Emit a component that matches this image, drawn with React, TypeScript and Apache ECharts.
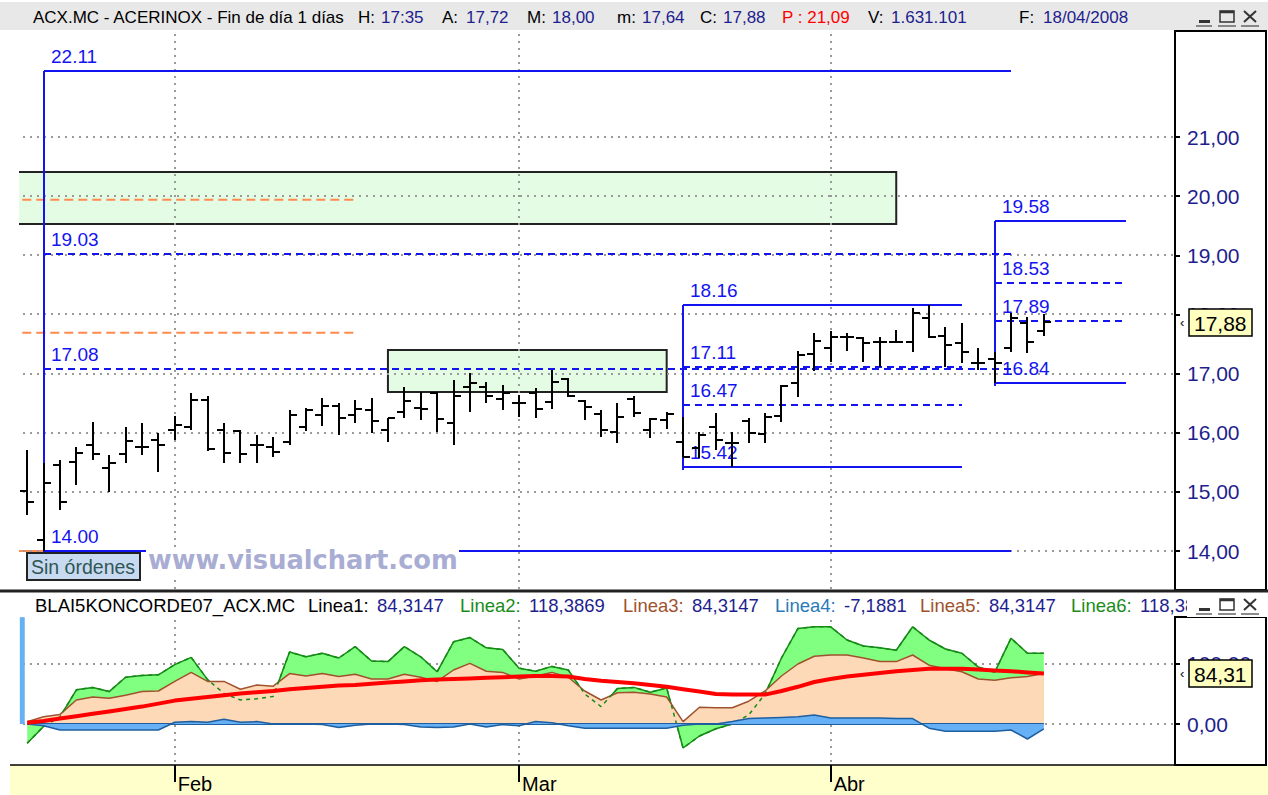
import React, { useEffect, useRef } from 'react';
import * as echarts from 'echarts';

// ---------- DATA ----------
const dates = [
  '2008-01-21','2008-01-22','2008-01-23','2008-01-24','2008-01-25','2008-01-28','2008-01-29','2008-01-30','2008-01-31',
  '2008-02-01','2008-02-04','2008-02-05','2008-02-06','2008-02-07','2008-02-08','2008-02-11','2008-02-12','2008-02-13','2008-02-14','2008-02-15','2008-02-18','2008-02-19','2008-02-20','2008-02-21','2008-02-22','2008-02-25','2008-02-26','2008-02-27','2008-02-28','2008-02-29',
  '2008-03-03','2008-03-04','2008-03-05','2008-03-06','2008-03-07','2008-03-10','2008-03-11','2008-03-12','2008-03-13','2008-03-14','2008-03-17','2008-03-18','2008-03-19','2008-03-20','2008-03-25','2008-03-26','2008-03-27','2008-03-28','2008-03-31',
  '2008-04-01','2008-04-02','2008-04-03','2008-04-04','2008-04-07','2008-04-08','2008-04-09','2008-04-10','2008-04-11','2008-04-14','2008-04-15','2008-04-16','2008-04-17','2008-04-18',
];
const opens = [15.01,14.19,15.45,15.50,15.79,15.40,15.64,15.76,15.88, 16.05,16.10,16.55,16.05,16.03,15.79,15.76,15.85,16.10,16.30,16.45,16.30,16.38,16.05,16.35,16.42,16.67,16.16,16.77,16.77,16.57, 16.50,16.67,16.52,16.91,16.54,16.32,16.01,16.57,16.05,16.22,15.84,15.74,16.10,15.83,16.20,15.98,16.28,16.84,17.33, 17.43,17.62,17.60,17.53,17.53,17.53,17.94,17.64,17.52,17.18,17.25,17.43,17.86,17.72];
const highs = [15.71,15.49,15.54,15.76,16.18,15.62,16.10,16.16,16.00, 16.28,16.67,16.62,16.16,16.05,15.96,15.93,16.38,16.42,16.59,16.50,16.55,16.58,16.25,16.77,16.69,16.69,16.89,17.01,16.86,16.81, 16.64,16.76,17.06,16.93,16.55,16.38,16.50,16.62,16.25,16.35,16.27,16.01,16.33,16.01,16.25,16.33,16.81,17.38,17.69, 17.72,17.69,17.62,17.62,17.74,18.11,18.16,17.79,17.86,17.43,17.36,18.02,17.96,18.00];
const lows = [14.61,14.00,14.69,15.12,15.54,15.00,15.49,15.62,15.34, 15.88,16.05,15.69,15.49,15.49,15.49,15.59,15.79,16.03,16.11,15.96,16.16,16.00,15.84,16.25,16.22,16.02,15.79,16.35,16.50,16.38, 16.27,16.25,16.40,16.60,16.22,15.93,15.83,16.27,15.91,16.06,15.59,15.57,15.71,15.42,15.83,15.83,16.18,16.60,17.04, 17.20,17.38,17.20,17.11,17.52,17.36,17.60,17.11,17.18,17.06,16.84,17.36,17.35,17.64];
const closes = [14.83,15.15,14.83,15.66,15.64,15.49,15.86,15.76,15.79, 16.13,16.55,15.72,15.66,15.64,15.79,15.67,16.30,16.38,16.45,16.25,16.40,16.20,16.25,16.54,16.40,16.23,16.62,16.84,16.62,16.67, 16.50,16.40,16.86,16.62,16.44,16.05,16.27,16.33,16.23,16.32,15.59,15.96,15.88,15.83,16.00,16.27,16.79,17.31,17.55, 17.62,17.62,17.52,17.53,17.53,18.02,17.62,17.48,17.36,17.18,17.18,17.94,17.53,17.88];

const koncordeGreen = [-32,-4,12,57,61,54,78,81,82, 99,111,74,51,40,42,46,120,112,118,110,129,105,104,129,112,87,137,144,127,124, 93,88,96,90,50,29,59,61,53,60,-40,-20,-8,0,15,50,110,159,162, 162,140,130,127,123,162,140,125,118,95,86,143,118,118];
const koncordeBrown = [4,12,16,40,45,43,48,54,55, 71,86,71,71,58,65,63,84,80,84,79,83,75,75,83,78,71,90,101,88,86, 75,80,86,78,55,40,52,53,50,45,4,28,27,27,38,55,80,100,113, 115,115,110,104,104,115,98,92,87,75,73,77,79,84];
const koncordeBlue = [0,-3,-10,-10,-10,-10,-10,-10,-10, 3,4,3,8,3,4,0,0,0,-1,-6,-2,0,0,-1,-5,-6,-5,0,-5,-1, -3,4,2,-3,-7,-7,-7,-7,-7,-7,-2,0,0,4,9,10,11,12,15, 10,10,10,10,9,9,-7,-12,-12,-12,-12,-10,-25,-8];
const koncordeRed = [2,5,9,13,17,21,25,29,34, 39,42,45,48,51,53,55,58,60,62,64,65,67,69,71,73,74,75,76,77,78, 79,80,80,79,75,72,70,68,65,62,58,54,50,49,49,49,55,62,70, 75,79,82,85,88,90,92,92,92,91,89,88,86,84];

const priceTicks = [14, 15, 16, 17, 18, 19, 20, 21];
const oscTicks = [0, 100];
const monthNames: Record<string, string> = { '01': 'Ene', '02': 'Feb', '03': 'Mar', '04': 'Abr' };

// drawings (in data coordinates: bar index, price)
const fibStart = [1, 40, 59];
const fibEnd = [60, 57, 67];
const fibHigh = [22.11, 18.16, 19.58];
const fibLow = [14.0, 15.42, 16.84];
const fibUpper = [19.03, 17.11, 18.53];
const fibLower = [17.08, 16.47, 17.89];

const zoneStart = [-2, 22];
const zoneEnd = [53, 39];
const zoneTop = [20.41, 17.4];
const zoneBottom = [19.53, 16.69];

const orangeLevels = [19.94, 17.69];
const orangeStart = [-0.3, -0.3];
const orangeEnd = [20, 20];
const stopLevel = 14.0;
const stopRange = [-0.5, 1];

const blueSpike = [-0.45, -0.15];

const quoteTime = '17:35';
const quoteP = 21.09;
const quoteVolume = '1.631.101';
const lineaValues = [84.3147, 118.3869, 84.3147, -7.1881, 84.3147, 118.3869];

// ---------- HELPERS ----------
const FONT = '"Liberation Sans", Arial, sans-serif';
const NAVY = '#1e1e8e';
const BLUE = '#1414f0';
const fmt2 = (v: number) => v.toFixed(2).replace('.', ',');
const fmt4 = (v: number) => v.toFixed(4).replace('.', ',');
const last = dates.length - 1;
const lastClose = closes[last];
const lastOsc = lineaValues[0];
const monthStarts = dates
  .map((d, i) => (i > 0 && d.slice(5, 7) !== dates[i - 1].slice(5, 7) ? i : -1))
  .filter((i) => i >= 0);
const pairs = (arr: number[]) => arr.map((v, i) => [i, v]);
const dmy = (d: string) => `${d.slice(8, 10)}/${d.slice(5, 7)}/${d.slice(0, 4)}`;

const txtStyle = (text: string, fill: string, size: number, extra: any = {}) => ({
  text, fill, font: `${size}px ${FONT}`, fontSize: size, fontFamily: FONT,
  align: 'left', textAlign: 'left', verticalAlign: 'middle', textVerticalAlign: 'middle', ...extra,
});
const T = (x: number, y: number, text: string, fill: string, size = 17, extra: any = {}) => ({
  type: 'text', x, y, z: 7, silent: true, style: txtStyle(text, fill, size, extra),
});

const buttons = (y: number, bg: string) => [
  { type: 'rect', z: 7, shape: { x: 1187, y: y - 11, width: 81, height: 23 }, style: { fill: bg } },
  { type: 'rect', z: 8, shape: { x: 1199, y: y + 3, width: 11, height: 3 }, style: { fill: '#333' } },
  { type: 'rect', z: 8, shape: { x: 1220, y: y - 6, width: 14, height: 11 }, style: { fill: 'none', stroke: '#333', lineWidth: 1.5 } },
  { type: 'line', z: 8, shape: { x1: 1220, y1: y - 5, x2: 1234, y2: y - 5 }, style: { stroke: '#333', lineWidth: 2.5 } },
  { type: 'line', z: 8, shape: { x1: 1244, y1: y - 6, x2: 1256, y2: y + 5 }, style: { stroke: '#333', lineWidth: 2 } },
  { type: 'line', z: 8, shape: { x1: 1256, y1: y - 6, x2: 1244, y2: y + 5 }, style: { stroke: '#333', lineWidth: 2 } },
  { type: 'line', z: 8, shape: { x1: 1196, y1: y + 9, x2: 1212, y2: y + 9 }, style: { stroke: '#666', lineWidth: 1.5 } },
  { type: 'line', z: 8, shape: { x1: 1218, y1: y + 9, x2: 1236, y2: y + 9 }, style: { stroke: '#666', lineWidth: 1.5 } },
  { type: 'line', z: 8, shape: { x1: 1241, y1: y + 9, x2: 1259, y2: y + 9 }, style: { stroke: '#666', lineWidth: 1.5 } },
];

// last-value marker drawn in the axis panel, placed through the series' own scale
const lastValueSeries = (axisIndex: number, value: number) => ({
  type: 'custom', xAxisIndex: axisIndex, yAxisIndex: axisIndex, z: 10, silent: true, clip: false,
  data: [[last, value]], encode: { x: 0, y: 1 },
  renderItem: (params: any, api: any) => {
    const cs = params.coordSys;
    const x0 = cs.x + cs.width;
    const y = Math.round(api.coord([api.value(0), api.value(1)])[1]);
    return {
      type: 'group',
      children: [
        { type: 'text', x: x0 + 5, y: y, style: txtStyle('‹', '#000', 13) },
        { type: 'rect', shape: { x: x0 + 14, y: y - 13, width: 63, height: 27 }, style: { fill: '#ffffc0', stroke: '#000', lineWidth: 1.5 } },
        { type: 'text', x: x0 + 19, y: y + 1, style: txtStyle(fmt2(api.value(1)), '#000', 21) },
      ],
    };
  },
});

// dotted grid lines (drawn as rows of small dots) through the axes' scales
const DOT_STEP = 7;
const dotsH = (x1: number, x2: number, y: number) => {
  const out: any[] = [];
  for (let x = x1; x <= x2; x += DOT_STEP) out.push({ type: 'rect', shape: { x, y: y - 1, width: 2, height: 2 }, style: { fill: '#9a9a9a' } });
  return out;
};
const dotsV = (x: number, y1: number, y2: number) => {
  const out: any[] = [];
  for (let y = y1; y <= y2; y += DOT_STEP) out.push({ type: 'rect', shape: { x: x - 1, y, width: 2, height: 2 }, style: { fill: '#9a9a9a' } });
  return out;
};
const hGridSeries = (axisIndex: number, values: number[], z: number) => ({
  type: 'custom', xAxisIndex: axisIndex, yAxisIndex: axisIndex, z, silent: true,
  data: values.map((v) => [35, v]), encode: { x: 0, y: 1 },
  renderItem: (params: any, api: any) => {
    const cs = params.coordSys;
    const y = Math.round(api.coord([api.value(0), api.value(1)])[1]);
    return { type: 'group', children: dotsH(cs.x + 4, cs.x + cs.width - 4, y) };
  },
});
const vGridSeries = (axisIndex: number, idx: number[], yRef: number, z: number) => ({
  type: 'custom', xAxisIndex: axisIndex, yAxisIndex: axisIndex, z, silent: true,
  data: idx.map((i) => [i, yRef]), encode: { x: 0, y: 1 },
  renderItem: (params: any, api: any) => {
    const cs = params.coordSys;
    const x = Math.round(api.coord([api.value(0), api.value(1)])[0]);
    return { type: 'group', children: dotsV(x, cs.y + 3, cs.y + cs.height - 2) };
  },
});

function buildOption(): any {
  const HY = 17;
  const LY = 605;
  const header = [
    { type: 'rect', z: 6, shape: { x: 0, y: 2, width: 1268, height: 28 }, style: { fill: '#e8e8e8' } },
    T(33, HY, 'ACX.MC - ACERINOX - Fin de día 1 días', '#000'),
    T(358, HY, 'H:', '#000'), T(381, HY, quoteTime, NAVY),
    T(442, HY, 'A:', '#000'), T(466, HY, fmt2(opens[last]), NAVY),
    T(527, HY, 'M:', '#000'), T(552, HY, fmt2(highs[last]), NAVY),
    T(617, HY, 'm:', '#000'), T(642, HY, fmt2(lows[last]), NAVY),
    T(700, HY, 'C:', '#000'), T(723, HY, fmt2(closes[last]), NAVY),
    T(782, HY, 'P : ' + fmt2(quoteP), '#ff0000'),
    T(868, HY, 'V:', '#000'), T(891, HY, quoteVolume, NAVY),
    T(1019, HY, 'F:', '#000'), T(1043, HY, dmy(dates[last]), NAVY),
    ...buttons(HY, '#e8e8e8'),
  ];
  const lineaColors = ['#000000', '#1a8c1a', '#a0522d', '#2a7ab8', '#a0522d', '#1a8c1a'];
  const lineaX = [308, 460, 623, 775, 920, 1071];
  const lower = [
    T(35, LY, 'BLAI5KONCORDE07_ACX.MC', '#000', 18.5),
    ...lineaValues.flatMap((v, k) => [
      T(lineaX[k], LY, `Linea${k + 1}:`, lineaColors[k], 18.5),
      T(lineaX[k] + 69, LY, fmt4(v), NAVY, 18.5),
    ]),
    ...buttons(LY, '#ffffff'),
  ];
  const chrome = [
    { type: 'rect', z: -1, shape: { x: 10, y: 765, width: 1258, height: 30 }, style: { fill: '#ffffcc' } },
    { type: 'line', z: 6, shape: { x1: 10, y1: 765, x2: 1176, y2: 765 }, style: { stroke: '#000', lineWidth: 1.5 } },
    { type: 'rect', z: 6, shape: { x: 1175, y: 31, width: 91, height: 559 }, style: { fill: 'none', stroke: '#000', lineWidth: 2 } },
    { type: 'rect', z: 6, shape: { x: 1175, y: 617, width: 91, height: 148 }, style: { fill: 'none', stroke: '#000', lineWidth: 2 } },
    { type: 'rect', z: 6, shape: { x: 0, y: 589.5, width: 1268, height: 3 }, style: { fill: '#222' } },
    // watermark
    { type: 'rect', z: 3.5, shape: { x: 146, y: 548, width: 313, height: 27 }, style: { fill: '#fff' } },
    { type: 'text', z: 3.6, x: 148, y: 573, silent: true,
      style: { text: 'www.visualchart.com', fill: '#a9add3', font: 'bold 25.7px "DejaVu Sans", Verdana, sans-serif', fontSize: 25.7, fontWeight: 'bold', fontFamily: '"DejaVu Sans", Verdana, sans-serif', align: 'left', textAlign: 'left', verticalAlign: 'bottom', textVerticalAlign: 'bottom' } },
    // Sin órdenes
    { type: 'rect', z: 5, shape: { x: 27, y: 553, width: 113, height: 27 }, style: { fill: '#c8daf0', stroke: '#222', lineWidth: 2 } },
    T(31, 567, 'Sin órdenes', '#2f5656', 19.5),
  ];

  const ohlcData = dates.map((d, i) => [i, opens[i], highs[i], lows[i], closes[i]]);
  const fibData = fibStart.map((s, k) => [s, fibEnd[k], fibHigh[k], fibLow[k], fibUpper[k], fibLower[k]]);
  const zoneData = zoneStart.map((s, k) => [s, zoneEnd[k], zoneTop[k], zoneBottom[k]]);
  const orangeData = orangeLevels.map((v, k) => [orangeStart[k], orangeEnd[k], v]);

  const yLabel = (ticks: number[]) => ({
    customValues: ticks,
    margin: 12,
    color: NAVY,
    fontSize: 21,
    fontFamily: FONT,
    formatter: (v: number) => fmt2(v),
  });

  return {
    animation: false,
    backgroundColor: '#ffffff',
    grid: [
      { left: 19, top: 31, width: 1156, height: 559 },
      { left: 19, top: 617, width: 1156, height: 148 },
      { left: 19, top: 765, width: 1156, height: 30 },
    ],
    xAxis: [
      { type: 'value', gridIndex: 0, min: -0.5, max: 70, show: false, axisLine: { onZero: false } },
      { type: 'value', gridIndex: 1, min: -0.5, max: 70, show: false, axisLine: { onZero: false } },
      {
        type: 'value', gridIndex: 2, min: -0.5, max: 70, position: 'top',
        axisLine: { show: false, onZero: false }, splitLine: { show: false },
        axisTick: { show: true, customValues: monthStarts, inside: true, length: 17, lineStyle: { color: '#000', width: 2 } },
        axisLabel: {
          show: true, customValues: monthStarts, inside: true, margin: 9, align: 'left', verticalAlign: 'top',
          padding: [0, 0, 0, 3], color: '#000', fontSize: 20, fontFamily: FONT,
          formatter: (v: number) => monthNames[dates[Math.round(v)].slice(5, 7)],
        },
      },
    ],
    yAxis: [
      {
        type: 'value', gridIndex: 0, position: 'right', min: 13.341, max: 22.793,
        axisLine: { show: false, onZero: false }, splitLine: { show: false },
        axisTick: { show: true, customValues: priceTicks, length: 5, lineStyle: { color: '#000', width: 2 } },
        axisLabel: yLabel(priceTicks),
      },
      {
        type: 'value', gridIndex: 1, position: 'right', min: -68.33, max: 178.33,
        axisLine: { show: false, onZero: false }, splitLine: { show: false },
        axisTick: { show: true, customValues: oscTicks, length: 5, lineStyle: { color: '#000', width: 2 } },
        axisLabel: yLabel(oscTicks),
      },
      { type: 'value', gridIndex: 2, min: 0, max: 1, show: false, axisLine: { onZero: false } },
    ],
    graphic: [...chrome, ...header, ...lower],
    series: [
      // supply / demand zones
      {
        type: 'custom', xAxisIndex: 0, yAxisIndex: 0, z: 1, clip: true, silent: true,
        data: zoneData, encode: { x: [0, 1], y: [2, 3] },
        renderItem: (params: any, api: any) => {
          const p0 = api.coord([api.value(0), api.value(2)]);
          const p1 = api.coord([api.value(1), api.value(3)]);
          return {
            type: 'rect',
            shape: { x: p0[0], y: p0[1], width: p1[0] - p0[0], height: p1[1] - p0[1] },
            style: { fill: '#e4fbe4', stroke: '#222', lineWidth: 2 },
          };
        },
      },
      hGridSeries(0, priceTicks, 2),
      vGridSeries(0, monthStarts, priceTicks[0], 2),
      // orange dashed lines
      {
        type: 'custom', xAxisIndex: 0, yAxisIndex: 0, z: 2, silent: true,
        data: orangeData, encode: { x: [0, 1], y: 2 },
        renderItem: (params: any, api: any) => {
          const a = api.coord([api.value(0), api.value(2)]);
          const b = api.coord([api.value(1), api.value(2)]);
          return { type: 'line', shape: { x1: a[0], y1: a[1], x2: b[0], y2: b[1] }, style: { stroke: '#ff8a4c', lineWidth: 2, lineDash: [9, 5] } };
        },
        markLine: {
          z: 2, silent: true, symbol: ['none', 'none'], label: { show: false },
          lineStyle: { type: 'solid', color: '#ff8a4c', width: 2 },
          data: [[{ coord: [stopRange[0], stopLevel] }, { coord: [stopRange[1], stopLevel] }]],
        },
      },
      // fibonacci drawings
      {
        type: 'custom', xAxisIndex: 0, yAxisIndex: 0, z: 3, silent: true,
        data: fibData, encode: { x: [0, 1], y: [2, 3, 4, 5] },
        renderItem: (params: any, api: any) => {
          const s = api.value(0), e = api.value(1);
          const vals = [api.value(2), api.value(3), api.value(4), api.value(5)];
          const xS = Math.round(api.coord([s, vals[0]])[0]);
          const xE = Math.round(api.coord([e, vals[0]])[0]);
          const ys = vals.map((v: number) => Math.round(api.coord([s, v])[1]));
          const solid = { stroke: BLUE, lineWidth: 2 };
          const dashed = { stroke: BLUE, lineWidth: 2, lineDash: [7, 5] };
          const lab = (y: number, v: number) => ({
            type: 'text', x: xS + 7, y: y - 15, style: txtStyle(v.toFixed(2), BLUE, 19),
          });
          return {
            type: 'group',
            children: [
              { type: 'line', shape: { x1: xS, y1: ys[0], x2: xS, y2: ys[1] + 3 }, style: solid },
              { type: 'line', shape: { x1: xS, y1: ys[0], x2: xE, y2: ys[0] }, style: solid },
              { type: 'line', shape: { x1: xS, y1: ys[1], x2: xE, y2: ys[1] }, style: solid },
              { type: 'line', shape: { x1: xS, y1: ys[2], x2: xE, y2: ys[2] }, style: dashed },
              { type: 'line', shape: { x1: xS, y1: ys[3], x2: xE, y2: ys[3] }, style: dashed },
              lab(ys[0], vals[0]), lab(ys[1], vals[1]), lab(ys[2], vals[2]), lab(ys[3], vals[3]),
            ],
          };
        },
      },
      // OHLC bars
      {
        type: 'custom', xAxisIndex: 0, yAxisIndex: 0, z: 4, silent: true,
        data: ohlcData, encode: { x: 0, y: [1, 2, 3, 4] },
        renderItem: (params: any, api: any) => {
          const i = api.value(0);
          const o = api.coord([i, api.value(1)]);
          const h = api.coord([i, api.value(2)]);
          const l = api.coord([i, api.value(3)]);
          const c = api.coord([i, api.value(4)]);
          const x = Math.round(h[0]);
          const st = { stroke: '#000', lineWidth: 2 };
          return {
            type: 'group',
            children: [
              { type: 'line', shape: { x1: x, y1: Math.round(h[1]), x2: x, y2: Math.round(l[1]) }, style: st },
              { type: 'line', shape: { x1: x - 7, y1: Math.round(o[1]), x2: x, y2: Math.round(o[1]) }, style: st },
              { type: 'line', shape: { x1: x, y1: Math.round(c[1]), x2: x + 7, y2: Math.round(c[1]) }, style: st },
            ],
          };
        },
      },
      lastValueSeries(0, lastClose),
      // ---- lower panel ----
      hGridSeries(1, oscTicks, 0),
      vGridSeries(1, monthStarts, oscTicks[0], 0),
      {
        type: 'line', xAxisIndex: 1, yAxisIndex: 1, z: 1, silent: true, symbol: 'none',
        data: pairs(koncordeGreen),
        lineStyle: { color: '#168a16', width: 1.5 },
        areaStyle: { color: '#80ff80', opacity: 1, origin: 0 },
      },
      {
        type: 'line', xAxisIndex: 1, yAxisIndex: 1, z: 2, silent: true, symbol: 'none',
        data: pairs(koncordeBrown),
        lineStyle: { color: '#a0522d', width: 1.5 },
        areaStyle: { color: '#fdd9b8', opacity: 1, origin: 0 },
      },
      {
        type: 'line', xAxisIndex: 1, yAxisIndex: 1, z: 3, silent: true, symbol: 'none',
        data: pairs(koncordeGreen),
        lineStyle: { color: '#168a16', width: 1.5, type: [4, 4] },
      },
      {
        type: 'line', xAxisIndex: 1, yAxisIndex: 1, z: 4, silent: true, symbol: 'none',
        data: pairs(koncordeBlue),
        lineStyle: { color: '#1f5f9f', width: 1.5 },
        areaStyle: { color: '#66b0f5', opacity: 1, origin: 0 },
        markArea: {
          z: 4, silent: true, itemStyle: { color: '#66b0f5' },
          data: [[{ coord: [blueSpike[0], 0] }, { coord: [blueSpike[1], 178] }]],
        },
        markLine: {
          z: 4, silent: true, symbol: ['none', 'none'], label: { show: false },
          lineStyle: { type: 'solid', color: '#1f5f9f', width: 2 },
          data: [[{ coord: [0, 0] }, { coord: [last, 0] }]],
        },
      },
      {
        type: 'line', xAxisIndex: 1, yAxisIndex: 1, z: 5, silent: true, symbol: 'none',
        data: pairs(koncordeRed),
        lineStyle: { color: '#ff0000', width: 4 },
      },
      lastValueSeries(1, lastOsc),
    ],
  };
}

export default function App() {
  const ref = useRef<HTMLDivElement>(null);
  useEffect(() => {
    document.body.style.margin = '0';
    if (!ref.current) return;
    const chart = echarts.init(ref.current, undefined, { renderer: 'svg' });
    chart.setOption(buildOption());
    return () => chart.dispose();
  }, []);
  return <div ref={ref} style={{ width: 1268, height: 795 }} />;
}
